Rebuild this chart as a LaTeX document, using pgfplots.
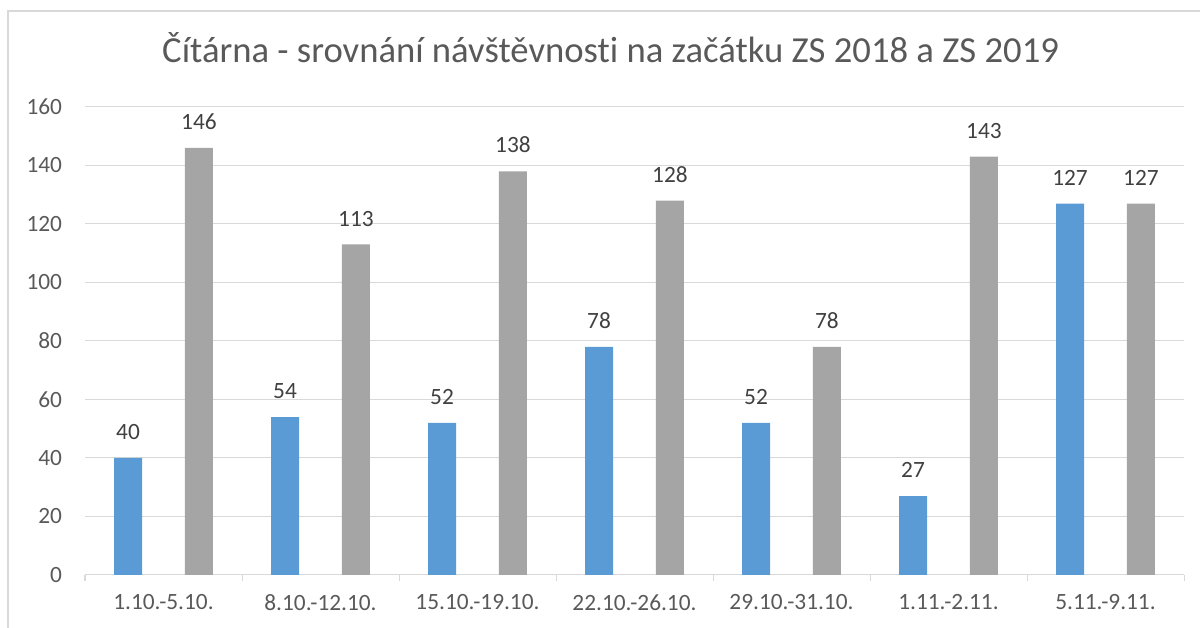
\documentclass[border=0pt]{standalone}
\usepackage{fontspec}
\setmainfont{Carlito}[Ligatures=NoCommon]
\usepackage{pgfplots}
\pgfplotsset{compat=1.18}
\definecolor{blueb}{HTML}{5B9BD5}
\definecolor{grayb}{HTML}{A5A5A5}
\definecolor{gridc}{HTML}{D9D9D9}
\definecolor{framec}{HTML}{D9D9D9}
\definecolor{txt}{HTML}{595959}
\definecolor{lbl}{HTML}{404040}
\begin{document}
\begin{tikzpicture}
\useasboundingbox (0,0) rectangle (900pt,471pt);
\draw[framec, line width=1pt] (6pt,0) -- (6pt,462.75pt) -- (900pt,462.75pt);
\node[font=\fontsize{27.5}{33}\selectfont, text=txt, anchor=base] at (458pt,423.75pt) {Čítárna - srovnání návštěvnosti na začátku ZS 2018 a ZS 2019};
\begin{axis}[
  at={(63.75pt,39.75pt)}, anchor=south west,
  scale only axis, width=824.25pt, height=351pt,
  xmin=-0.5, xmax=6.5, ymin=0, ymax=160,
  ytick={0,20,...,160},
  xtick={0,...,6},
  xticklabels={1.10.-5.10.,8.10.-12.10.,15.10.-19.10.,22.10.-26.10.,29.10.-31.10.,1.11.-2.11.,5.11.-9.11.},
  minor xtick={-0.5,0.5,...,6.5},
  major tick length=0pt, minor tick length=4.5pt, tick align=outside,
  minor tick style={gridc, line width=0.75pt},
  axis x line*=bottom, axis y line*=left,
  x axis line style={gridc, line width=0.75pt, -},
  y axis line style={draw=none},
  ymajorgrids, grid style={gridc, line width=0.75pt},
  /pgf/number format/assume math mode=true,
  ticklabel style={font=\fontsize{17.5}{21}\selectfont, text=txt, inner sep=0pt},
  xticklabel style={yshift=-14.5pt},
  yticklabel style={xshift=-17pt},
  nodes near coords,
  every node near coord/.append style={font=\fontsize{17.5}{21}\selectfont, text=lbl, anchor=south, inner sep=0pt, yshift=13.5pt},
  clip=false,
]
\addplot[ybar, bar width=21pt, bar shift=-26.6pt, fill=blueb, draw=none,
  every node near coord/.append style={xshift=-26.6pt}] coordinates {(0,40) (1,54) (2,52) (3,78) (4,52) (5,27) (6,127)};
\addplot[ybar, bar width=21pt, bar shift=26.6pt, fill=grayb, draw=none,
  every node near coord/.append style={xshift=26.6pt}] coordinates {(0,146) (1,113) (2,138) (3,128) (4,78) (5,143) (6,127)};
\end{axis}
\end{tikzpicture}
\end{document}
